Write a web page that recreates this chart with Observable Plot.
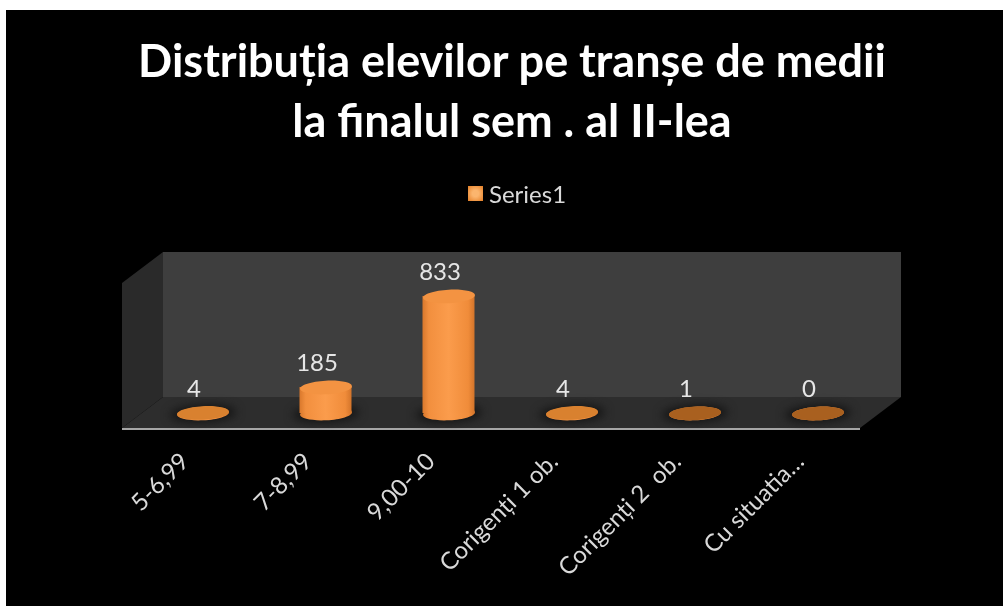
<!DOCTYPE html>
<html lang="ro">
<head>
<meta charset="utf-8">
<script src="https://cdn.jsdelivr.net/npm/d3@7"></script>
<script src="https://cdn.jsdelivr.net/npm/@observablehq/plot@0.6"></script>
<style>
  html, body { margin: 0; padding: 0; background: #fff; overflow: hidden; }
  #slide { position: absolute; left: 6px; top: 10px; width: 997px; height: 596px; background: #000; font-family: Lato, "Open Sans", sans-serif; filter: blur(0.7px); overflow: hidden; }
  #title { position: absolute; left: 0; width: 1012px; top: 20px; margin: 0; text-align: center; color: #fff; font-size: 45px; line-height: 60px; font-weight: 700; }
  #legend { position: absolute; left: 462px; top: 170px; height: 26px; display: flex; align-items: center; gap: 6px; color: #d9d9d9; font-size: 24px; }
  #legend i { display: block; width: 15px; height: 15px; background: radial-gradient(circle, #fbb56e 30%, #e57f26 100%); }
  #chart { position: absolute; left: 0; top: 205px; }
  #chart svg { display: block; background: transparent; }
  #chart text { white-space: pre; }
  .shadow { filter: blur(5px); }
</style>
</head>
<body>
<div id="slide">
  <h1 id="title">Distribuția elevilor pe tranșe de medii<br>la finalul sem . al II-lea</h1>
  <div id="legend"><i></i><span id="seriesName"></span></div>
  <div id="chart"></div>
</div>
<script>
const categories = ["5-6,99", "7-8,99", "9,00-10", "Corigenți 1 ob.", "Corigenți 2  ob.", "Cu situatia…"];
const values = [4, 185, 833, 4, 1, 0];
const seriesName = "Series1";
const axisMax = 1032;

const rows = categories.map((category, i) => ({category, value: values[i]}));
document.getElementById("seriesName").textContent = seriesName;

// Ellipse symbol for the cylinder caps: d3.path has no ellipse, so four curves.
const capSymbol = {
  draw(context, size) {
    const rx = Math.sqrt(size / Math.PI), ry = rx * 0.26, k = 0.5523;
    const a = -3 * Math.PI / 180, c = Math.cos(a), s = Math.sin(a);
    const p = (x, y) => [x * c - y * s, x * s + y * c];
    context.moveTo(...p(rx, 0));
    context.bezierCurveTo(...p(rx, k * ry), ...p(k * rx, ry), ...p(0, ry));
    context.bezierCurveTo(...p(-k * rx, ry), ...p(-rx, k * ry), ...p(-rx, 0));
    context.bezierCurveTo(...p(-rx, -k * ry), ...p(-k * rx, -ry), ...p(0, -ry));
    context.bezierCurveTo(...p(k * rx, -ry), ...p(rx, -k * ry), ...p(rx, 0));
    context.closePath();
  }
};

const defs = () => d3.create("svg:defs").html(`
  <linearGradient id="body" x1="0" x2="1" y1="0" y2="0">
    <stop offset="0" stop-color="#d9782c"/>
    <stop offset="0.12" stop-color="#f28f3e"/>
    <stop offset="0.5" stop-color="#fb9c4c"/>
    <stop offset="0.88" stop-color="#f08c3a"/>
    <stop offset="1" stop-color="#d3742a"/>
  </linearGradient>`).node();

// Box walls, positioned from the chart's own scales plus a depth offset.
const walls = (index, {x, y}) => {
  const left = x(categories[0]), right = x(categories[categories.length - 1]) + x.bandwidth();
  const base = y(0), top = y(axisMax);
  const backX = 22, frontX = -19, backY = -16, frontY = 15;
  const g = d3.create("svg:g");
  const poly = (pts, fill) => g.append("polygon").attr("points", pts.join(" ")).attr("fill", fill);
  poly([[left + backX, top + backY], [right + backX, top + backY], [right + backX, base + backY], [left + backX, base + backY]], "#3e3e3e");
  poly([[left + frontX, top + frontY], [left + backX, top + backY], [left + backX, base + backY], [left + frontX, base + frontY]], "#2a2a2a");
  poly([[left + frontX, base + frontY], [left + backX, base + backY], [right + backX, base + backY], [right + frontX, base + frontY]], "#2d2d2d");
  g.append("line").attr("x1", left + frontX).attr("x2", right + frontX)
    .attr("y1", base + frontY + 1).attr("y2", base + frontY + 1)
    .attr("stroke", "#a6a6a6").attr("stroke-width", 2);
  return g.node();
};

const capFill = d => d.value >= 100 ? "#f39342" : d.value >= 2 ? "#d9812f" : "#a9601f";

const chart = Plot.plot({
  width: 997,
  height: 391,
  marginTop: 53,
  marginBottom: 193,
  marginLeft: 135,
  marginRight: 124,
  x: {domain: categories, padding: 0, axis: null},
  y: {domain: [0, axisMax], axis: null},
  style: {background: "transparent", color: "#d9d9d9"},
  marks: [
    defs,
    walls,
    Plot.dot(rows, {x: "category", y: () => 0, r: 33, symbol: capSymbol, fill: "#141414", className: "shadow"}),
    Plot.dot(rows, {x: "category", y: () => 0, r: 26, symbol: capSymbol, fill: "url(#body)"}),
    Plot.barY(rows.filter(d => d.value > 4), {x: "category", y: "value", fill: "url(#body)", insetLeft: 35.5, insetRight: 35.5}),
    Plot.dot(rows, {x: "category", y: "value", r: 26, symbol: capSymbol, fill: capFill}),
    Plot.text(rows, {x: "category", y: "value", text: d => String(d.value), dx: -9, dy: -24, fill: "#e6e6e6", fontSize: 24, fontFamily: "Lato"}),
    Plot.axisX({tickRotate: -45, tickSize: 0, tickPadding: 0, dx: -18, dy: 44, fontSize: 24, fontFamily: "Lato", fill: "#d9d9d9", label: null})
  ]
});
document.getElementById("chart").append(chart);
</script>
</body>
</html>
